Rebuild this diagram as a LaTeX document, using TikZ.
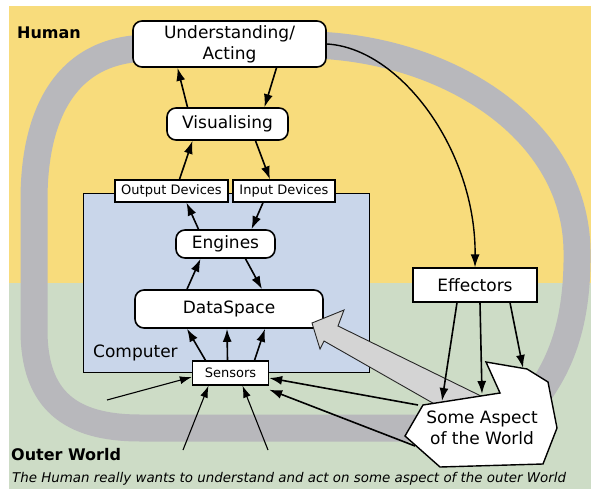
\documentclass[tikz,border=0pt]{standalone}
\usepackage{fontspec}
\setmainfont{DejaVu Sans}
\usetikzlibrary{arrows.meta}
\definecolor{human}{HTML}{F8DC7C}
\definecolor{world}{HTML}{CDDCC6}
\definecolor{machine}{HTML}{C9D6EA}
\definecolor{band}{HTML}{B8B8BC}
\definecolor{push}{HTML}{D4D4D4}

\begin{document}
\begin{tikzpicture}[x=1pt,y=-1pt,
  round/.style={draw,fill=white,rounded corners=9pt,line width=1.6pt,inner sep=0pt},
  plain/.style={draw,fill=white,line width=1.3pt,inner sep=0pt},
  big/.style={font=\fontsize{17}{21}\selectfont},
  small/.style={font=\fontsize{13}{15}\selectfont},
  flow/.style={-{Latex[length=13pt,width=9pt]},line width=1.6pt},
  feed/.style={-{Latex[length=12pt,width=8pt]},line width=1.1pt},
  loop/.style={band,line width=27pt}]
  \useasboundingbox (0,0) rectangle (591,489);
  \fill[human] (9,6) rectangle (591,283);
  \fill[world] (9,283) rectangle (591,489);

  % the two grey loops through the human
  \draw[loop] (150,48) .. controls (62,48) and (34,120) .. (34,200)
    -- (34,330) .. controls (34,400) and (70,428) .. (140,428) -- (430,428);
  \draw[loop] (315,45) .. controls (450,50) and (575,130) .. (577,250)
    .. controls (578,320) and (562,360) .. (540,392);

  \draw[fill=machine,line width=1pt] (83,193) rectangle (369,372);
  \node[big,anchor=west,inner sep=0pt] (comp) at (93,353) {Computer};

  \node[round,big,align=center,minimum width=193pt,minimum height=46pt]
    (und) at (229.5,44) {Understanding/\\Acting};
  \node[round,big,minimum width=121pt,minimum height=32pt] (vis) at (227.5,124) {Visualising};
  \node[plain,small,minimum width=113pt,minimum height=22pt] (outdev) at (171.5,191) {Output Devices};
  \node[plain,small,minimum width=102pt,minimum height=22pt] (indev) at (284,191) {Input Devices};
  \node[round,big,minimum width=99pt,minimum height=28pt] (eng) at (225.5,244) {Engines};
  \node[round,big,minimum width=188pt,minimum height=38pt] (data) at (229,309) {DataSpace};
  \node[plain,small,minimum width=76pt,minimum height=24pt] (sens) at (230.5,373) {Sensors};
  \node[plain,big,minimum width=124pt,minimum height=34pt] (eff) at (475,285) {Effectors};

  % broad feedback arrow into the data
  \draw[fill=push,draw=black!85,line width=0.9pt] (312,323) -- (344,310) -- (338,326)
    -- (485,398) -- (445,410) -- (324,341) -- (320,349) -- cycle;

  % the part of the world
  \draw[fill=white,line width=1.4pt] (405,436) -- (423,405) -- (500,393) -- (486,362)
    -- (527,369) -- (548,382) -- (557,428) -- (543,464) -- (440,467) -- cycle;
  \node[big,align=center,inner sep=0pt] (aspect) at (482,428) {Some Aspect\\of the World};
  \coordinate (hit1) at (442,401);
  \coordinate (hit2) at (482,394);
  \coordinate (hit3) at (523,368);
  \coordinate (src1) at (418,405);
  \coordinate (src2) at (415,446);
  \coordinate (w1) at (107,400);
  \coordinate (w2) at (183,450);
  \coordinate (w3) at (268,450);

  \draw[flow] ([xshift=-40]vis.north) -- ([xshift=-52]und.south);
  \draw[flow] ([xshift=47]und.south) -- ([xshift=37]vis.north);
  \draw[flow] ([xshift=8]outdev.north) -- ([xshift=-35]vis.south);
  \draw[flow] ([xshift=28]vis.south) -- ([xshift=-14]indev.north);
  \draw[flow] ([xshift=-27]eng.north) -- ([xshift=15]outdev.south);
  \draw[flow] ([xshift=-21]indev.south) -- ([xshift=26]eng.north);
  \draw[flow] ([xshift=-42]data.north) -- ([xshift=-25]eng.south);
  \draw[flow] ([xshift=20]eng.south) -- ([xshift=33]data.north);
  \draw[flow] ([xshift=-25]sens.north) -- ([xshift=-42]data.south);
  \draw[flow] ([xshift=-3]sens.north) -- ([xshift=-2]data.south);
  \draw[flow] ([xshift=24]sens.north) -- ([xshift=36]data.south);

  \draw[feed] (w1) -- ([yshift=-4]sens.west);
  \draw[feed] (w2) -- ([xshift=-22]sens.south);
  \draw[feed] (w3) -- ([xshift=12]sens.south);
  \draw[flow] (src1) -- ([yshift=-5]sens.east);
  \draw[flow] (src2) -- ([yshift=-4]sens.south east);

  \draw[flow] ([xshift=-18]eff.south) -- (hit1);
  \draw[flow] ([xshift=5]eff.south) -- (hit2);
  \draw[flow] ([xshift=35]eff.south) -- (hit3);
  \draw[flow,line width=1.4pt] (und.east) .. controls (400,48) and (476,150) .. (eff.north);

  \node[font=\bfseries\fontsize{16}{19}\selectfont,anchor=west,inner sep=0pt] (hum) at (17,33) {Human};
  \node[font=\bfseries\fontsize{16}{19}\selectfont,anchor=west,inner sep=0pt] (outer) at (11,455) {Outer World};
  \node[font=\itshape\fontsize{13.4}{15}\selectfont,anchor=west,inner sep=0pt] (note) at (12,479)
    {The Human really wants to understand and act on some aspect of the outer World};
\end{tikzpicture}
\end{document}
